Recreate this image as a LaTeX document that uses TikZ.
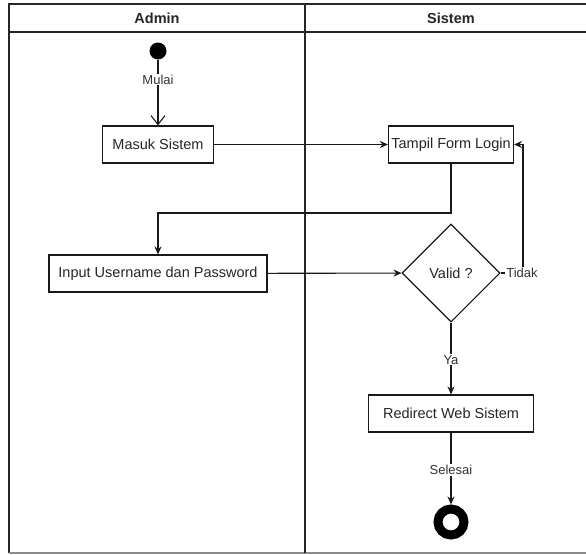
\documentclass[tikz,border=0pt]{standalone}
\usepackage{fontspec}
\setmainfont{Liberation Sans}
\usetikzlibrary{arrows.meta,shapes.geometric}
\begin{document}
\begin{tikzpicture}[x=1pt,y=-1pt,
  frame/.style={draw=black!85,line width=1.3pt},
  act/.style={draw=black!90,line width=1.1pt,fill=white,inner sep=0pt,minimum height=37pt,text=black!85,font=\fontsize{14.5}{17}\selectfont},
  dec/.style={diamond,draw=black!90,line width=1.1pt,fill=white,inner sep=0pt,minimum width=98pt,minimum height=98pt,text=black!85,font=\fontsize{14.5}{17}\selectfont},
  hdr/.style={text=black!85,font=\bfseries\fontsize{14.5}{17}\selectfont},
  lbl/.style={fill=white,inner sep=1pt,text=black!80,font=\fontsize{13}{15}\selectfont},
  flow/.style={draw=black!90,line width=1.1pt,-{Stealth[length=8pt,width=7pt]}},
  plain/.style={draw=black!90,line width=1.1pt},
]
\useasboundingbox (0,0) rectangle (586,554);
\fill[white] (0,0) rectangle (586,554);
% pool frame
\draw[frame] (9,553) -- (9,4) -- (592,4);
\draw[draw=black!45,line width=1.3pt] (9,553) -- (592,553);
\draw[frame] (9,32) -- (592,32);
\draw[frame] (305,4) -- (305,553);
\node[hdr] (hadmin) at (157,18) {Admin};
\node[hdr] (hsistem) at (451,18) {Sistem};
% nodes
\node[circle,fill=black,inner sep=0pt,minimum size=17pt] (start) at (158,51) {};
\node[act,minimum width=111pt] (masuk) at (158,144.5) {Masuk Sistem};
\node[act,minimum width=125pt] (tampil) at (451,144.5) {Tampil Form Login};
\node[act,minimum width=218pt] (input) at (158,273.5) {Input Username dan Password};
\node[dec] (valid) at (451,273) {Valid ?};
\node[act,minimum width=165pt] (redirect) at (451,413.5) {Redirect Web Sistem};
\node[circle,draw=black,line width=9pt,fill=white,inner sep=0pt,minimum size=26pt] (endc) at (451,522) {};
% connectors
\draw[plain,-{Straight Barb[length=9pt,width=14pt]}] (start) -- node[lbl,pos=0.3] {Mulai} (masuk);
\draw[flow] (masuk) -- (tampil);
\coordinate (c1) at (451,213);
\coordinate (c2) at (158,213);
\draw[flow] (tampil.south) -- (c1) -- (c2) -- (input.north);
\draw[flow] (input) -- (valid);
\coordinate (c3) at (523,273);
\coordinate (c4) at (523,144.5);
\draw[flow] (valid.east) -- (c3) -- (c4) -- (tampil.east);
\node[lbl] (ltidak) at (522,273) {Tidak};
\draw[flow] (valid.south) -- node[lbl,pos=0.52] {Ya} (redirect.north);
\draw[flow] (redirect.south) -- node[lbl,pos=0.52] {Selesai} (endc);
\end{tikzpicture}
\end{document}
